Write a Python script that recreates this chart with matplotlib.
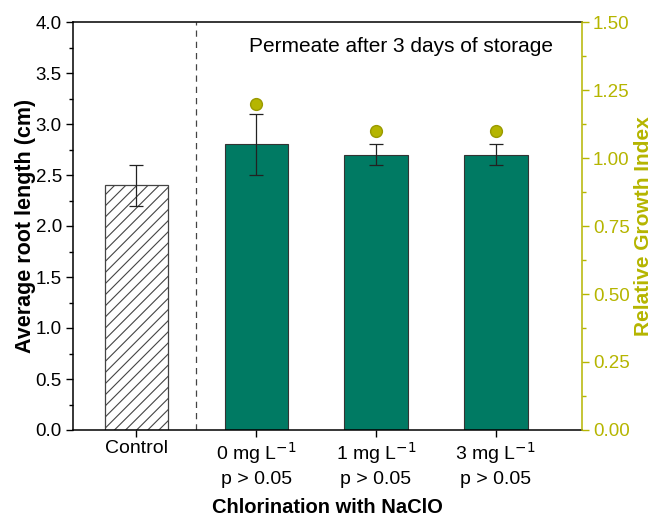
import matplotlib.pyplot as plt
import numpy as np
from matplotlib.ticker import MultipleLocator

plt.rcParams['font.family'] = ['Liberation Sans', 'DejaVu Sans']
plt.rcParams['hatch.color'] = '#444444'
plt.rcParams['hatch.linewidth'] = 0.8

labels = ['Control', '0 mg L$^{-1}$\np > 0.05', '1 mg L$^{-1}$\np > 0.05', '3 mg L$^{-1}$\np > 0.05']
root_len = [2.4, 2.8, 2.7, 2.7]
root_err = [0.2, 0.3, 0.1, 0.1]
rgi = [1.2, 1.1, 1.1]

green = '#007A63'
olive = '#B5B500'

x = np.arange(len(labels))
width = 0.53

fig = plt.figure(figsize=(6.54, 5.17), dpi=100)
ax = fig.add_axes([73/654, 87/517, 509/654, 408/517])

# control bar with hatch, the rest solid green
ax.bar(x[0], root_len[0], width, color='white', edgecolor='#444444',
       hatch='///', linewidth=0.9)
ax.bar(x[1:], root_len[1:], width, color=green, edgecolor='#333333', linewidth=0.8)
ax.errorbar(x, root_len, yerr=root_err, fmt='none', ecolor='#222222',
            elinewidth=0.9, capsize=5, capthick=0.9)

ax.axvline(0.5, color='#444444', ls=(0, (5, 4)), lw=0.9)
ax.text(2.21, 3.76, 'Permeate after 3 days of storage', fontsize=15,
        ha='center', va='center')

ax.set_xlim(-0.53, 3.72)
ax.set_ylim(0, 4.0)
ax.yaxis.set_major_locator(MultipleLocator(0.5))
ax.yaxis.set_minor_locator(MultipleLocator(0.25))
ax.yaxis.set_major_formatter(plt.FormatStrFormatter('%.1f'))
ax.set_xticks(x)
ax.set_xticklabels(labels, fontsize=14, linespacing=1.4)
ax.tick_params(axis='y', labelsize=13.5, direction='out', length=5, width=1, pad=3)
ax.tick_params(axis='y', which='minor', direction='out', length=3, width=1)
ax.tick_params(axis='x', direction='out', length=5, width=1, pad=2)
ax.set_ylabel('Average root length (cm)', fontsize=15.5, fontweight='bold', labelpad=0)
ax.set_xlabel('Chlorination with NaClO', fontsize=14.5, fontweight='bold', labelpad=7)
for s in ['top', 'left', 'bottom']:
    ax.spines[s].set_linewidth(1.1)
ax.spines['right'].set_visible(False)

ax2 = ax.twinx()
ax2.plot(x[1:], rgi, 'o', color=olive, markersize=8.5, markeredgecolor='#9A9A00')
ax2.set_ylim(0, 1.5)
ax2.yaxis.set_major_locator(MultipleLocator(0.25))
ax2.yaxis.set_minor_locator(MultipleLocator(0.125))
ax2.yaxis.set_major_formatter(plt.FormatStrFormatter('%.2f'))
ax2.tick_params(axis='y', colors=olive, labelsize=13.5, length=5, width=1, pad=3)
ax2.tick_params(axis='y', which='minor', colors=olive, length=3, width=1)
ax2.set_ylabel('Relative Growth Index', fontsize=15, fontweight='bold', color=olive,
               labelpad=3)
ax2.spines['right'].set_color(olive)
ax2.spines['right'].set_linewidth(1.1)
for s in ['top', 'left', 'bottom']:
    ax2.spines[s].set_visible(False)

fig.savefig('out.png', dpi=100)
